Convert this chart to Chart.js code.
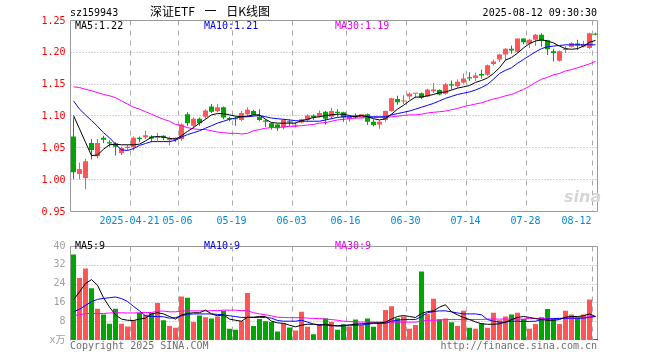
<!DOCTYPE html>
<html><head><meta charset="utf-8">
<script src="https://cdn.jsdelivr.net/npm/chart.js@4.4.1/dist/chart.umd.min.js"></script>
<style>
html,body{margin:0;padding:0;background:#fff;}
#wrap{position:relative;width:660px;height:360px;overflow:hidden;font-family:"DejaVu Sans Mono",monospace;font-size:10px;}
.t{position:absolute;white-space:pre;line-height:10px;}
#c1{position:absolute;left:0;top:0;}
#c2{position:absolute;left:0;top:235px;}
</style></head><body>
<div id="wrap">
<canvas id="c1" width="660" height="235"></canvas>
<canvas id="c2" width="660" height="125"></canvas>
<div class="t" style="left:70px;top:8px;color:#000;">sz159943</div>
<div class="t" style="left:150px;top:5px;font-family:'Noto Sans CJK SC',sans-serif;font-size:12px;line-height:12px;word-spacing:7px;color:#000;">深证ETF 一 日K线图</div>
<div class="t" style="right:63px;top:8px;color:#000;">2025-08-12 09:30:30</div>
<div class="t" style="left:75px;top:21px;color:#000;">MA5:1.22</div>
<div class="t" style="left:204px;top:21px;color:#0000ee;">MA10:1.21</div>
<div class="t" style="left:335px;top:21px;color:#ee00ee;">MA30:1.19</div>
<div class="t" style="left:75px;top:241px;color:#000;">MA5:9</div>
<div class="t" style="left:204px;top:241px;color:#0000ee;">MA10:9</div>
<div class="t" style="left:335px;top:241px;color:#ee00ee;">MA30:9</div>
<div class="t" style="left:70px;top:341px;color:#6e6e6e;">Copyright 2025 SINA.COM</div>
<div class="t" style="right:63px;top:341px;color:#6e6e6e;">http://finance.sina.com.cn</div>
<div class="t" style="left:564px;top:189px;font-family:'DejaVu Sans',sans-serif;font-size:16px;line-height:16px;font-style:italic;font-weight:bold;color:#d6d6d6;">sina</div>
</div>
<script>
const dates = [
'2025-04-07','2025-04-08','2025-04-09','2025-04-10','2025-04-11','2025-04-14','2025-04-15','2025-04-16','2025-04-17','2025-04-18',
'2025-04-21','2025-04-22','2025-04-23','2025-04-24','2025-04-25','2025-04-28','2025-04-29','2025-04-30',
'2025-05-06','2025-05-07','2025-05-08','2025-05-09','2025-05-12','2025-05-13','2025-05-14','2025-05-15','2025-05-16',
'2025-05-19','2025-05-20','2025-05-21','2025-05-22','2025-05-23','2025-05-26','2025-05-27','2025-05-28','2025-05-29','2025-05-30',
'2025-06-03','2025-06-04','2025-06-05','2025-06-06','2025-06-09','2025-06-10','2025-06-11','2025-06-12','2025-06-13',
'2025-06-16','2025-06-17','2025-06-18','2025-06-19','2025-06-20','2025-06-23','2025-06-24','2025-06-25','2025-06-26','2025-06-27',
'2025-06-30','2025-07-01','2025-07-02','2025-07-03','2025-07-04','2025-07-07','2025-07-08','2025-07-09','2025-07-10','2025-07-11',
'2025-07-14','2025-07-15','2025-07-16','2025-07-17','2025-07-18','2025-07-21','2025-07-22','2025-07-23','2025-07-24','2025-07-25',
'2025-07-28','2025-07-29','2025-07-30','2025-07-31','2025-08-01','2025-08-04','2025-08-05','2025-08-06','2025-08-07','2025-08-08',
'2025-08-11','2025-08-12'];

const opens = [1.067,1.008,1.002,1.057,1.036,1.065,1.058,1.056,1.041,1.049,
1.050,1.065,1.066,1.067,1.065,1.068,1.061,1.062,
1.063,1.102,1.084,1.095,1.098,1.114,1.107,1.113,1.096,
1.095,1.093,1.102,1.107,1.098,1.092,1.088,1.086,1.081,1.091,
1.084,1.089,1.093,1.100,1.098,1.106,1.098,1.106,1.105,
1.095,1.100,1.097,1.102,1.090,1.086,1.093,1.107,1.126,1.122,
1.130,1.134,1.135,1.130,1.138,1.140,1.134,1.149,1.146,1.152,
1.160,1.159,1.165,1.164,1.181,1.188,1.196,1.205,1.200,1.221,
1.213,1.219,1.227,1.218,1.201,1.186,1.203,1.208,1.213,1.208,
1.206,1.228];
const highs = [1.097,1.026,1.032,1.063,1.063,1.068,1.061,1.058,1.051,1.054,
1.067,1.067,1.076,1.069,1.073,1.069,1.067,1.066,
1.088,1.105,1.097,1.097,1.110,1.118,1.118,1.114,1.098,
1.098,1.107,1.113,1.109,1.110,1.094,1.089,1.087,1.095,1.094,
1.090,1.095,1.102,1.102,1.108,1.107,1.112,1.110,1.106,
1.099,1.103,1.102,1.103,1.094,1.092,1.108,1.128,1.131,1.132,
1.136,1.135,1.136,1.142,1.151,1.141,1.151,1.155,1.157,1.166,
1.168,1.167,1.172,1.180,1.188,1.197,1.206,1.210,1.221,1.221,
1.220,1.228,1.229,1.219,1.205,1.202,1.209,1.215,1.219,1.217,
1.230,1.230];
const lows = [1.000,1.000,0.984,1.031,1.033,1.057,1.051,1.037,1.038,1.046,
1.045,1.058,1.063,1.058,1.060,1.061,1.053,1.058,
1.060,1.083,1.080,1.084,1.095,1.104,1.105,1.094,1.091,
1.084,1.091,1.098,1.100,1.091,1.082,1.078,1.076,1.078,1.083,
1.081,1.088,1.090,1.093,1.097,1.086,1.094,1.098,1.090,
1.090,1.095,1.096,1.085,1.083,1.079,1.090,1.106,1.117,1.118,
1.125,1.127,1.126,1.129,1.135,1.132,1.133,1.141,1.144,1.150,
1.154,1.154,1.158,1.162,1.178,1.184,1.187,1.197,1.198,1.212,
1.206,1.209,1.208,1.195,1.185,1.185,1.198,1.207,1.203,1.207,
1.205,1.226];
const closes = [1.011,1.016,1.028,1.046,1.057,1.062,1.056,1.051,1.049,1.051,
1.065,1.063,1.069,1.064,1.067,1.065,1.064,1.065,
1.086,1.088,1.095,1.088,1.108,1.106,1.113,1.097,1.094,
1.094,1.104,1.109,1.101,1.093,1.090,1.081,1.080,1.093,1.089,
1.085,1.094,1.100,1.097,1.104,1.095,1.107,1.104,1.097,
1.098,1.097,1.102,1.090,1.085,1.090,1.107,1.127,1.121,1.123,
1.134,1.135,1.128,1.141,1.141,1.133,1.149,1.147,1.153,1.158,
1.158,1.163,1.163,1.179,1.185,1.196,1.205,1.202,1.221,1.215,
1.219,1.227,1.217,1.204,1.198,1.201,1.205,1.214,1.210,1.212,
1.229,1.227];

const ma5 = [1.100,1.079,1.058,1.037,1.038,1.047,1.054,1.055,1.054,1.054,
1.054,1.055,1.060,1.066,1.067,1.066,1.064,1.063,
1.068,1.075,1.081,1.088,1.094,1.101,1.103,1.103,1.101,
1.099,1.098,1.099,1.101,1.101,1.094,1.089,1.088,1.088,1.088,
1.088,1.092,1.094,1.097,1.098,1.100,1.101,1.102,1.102,
1.100,1.098,1.100,1.098,1.095,1.093,1.095,1.102,1.110,1.116,
1.123,1.129,1.129,1.131,1.133,1.136,1.137,1.140,1.143,1.145,
1.147,1.152,1.155,1.159,1.166,1.175,1.187,1.191,1.198,1.206,
1.213,1.217,1.219,1.217,1.214,1.209,1.205,1.204,1.205,1.209,
1.215,1.218];
const ma10 = [1.123,1.110,1.101,1.092,1.083,1.073,1.065,1.055,1.046,1.045,
1.048,1.053,1.056,1.059,1.059,1.059,1.059,1.061,
1.066,1.070,1.073,1.076,1.080,1.084,1.088,1.091,1.094,
1.096,1.098,1.098,1.099,1.100,1.098,1.096,1.095,1.094,1.093,
1.092,1.091,1.091,1.091,1.091,1.093,1.095,1.097,1.098,
1.098,1.099,1.100,1.098,1.098,1.098,1.098,1.101,1.103,1.105,
1.107,1.110,1.113,1.116,1.119,1.123,1.127,1.130,1.133,1.135,
1.137,1.140,1.144,1.149,1.157,1.166,1.171,1.175,1.182,1.188,
1.194,1.200,1.205,1.208,1.209,1.210,1.211,1.211,1.211,1.211,
1.211,1.211];
const ma30 = [1.145,1.144,1.141,1.139,1.136,1.133,1.131,1.128,1.123,1.118,
1.113,1.110,1.106,1.102,1.098,1.094,1.091,1.086,
1.084,1.081,1.079,1.078,1.078,1.076,1.074,1.073,1.072,
1.072,1.071,1.072,1.076,1.078,1.080,1.081,1.081,1.082,1.083,
1.083,1.084,1.085,1.086,1.088,1.089,1.091,1.093,1.094,
1.095,1.096,1.096,1.097,1.097,1.097,1.097,1.098,1.099,1.100,
1.101,1.101,1.102,1.104,1.105,1.106,1.107,1.109,1.111,1.114,
1.116,1.118,1.120,1.123,1.126,1.128,1.131,1.133,1.137,1.141,
1.146,1.152,1.157,1.160,1.164,1.166,1.170,1.172,1.175,1.178,
1.181,1.185];

const volumes = [36.4,26.4,30.4,22,13.3,10.9,6.9,13.3,6.9,5.7,
8.4,11.6,10.7,11.6,15.7,8.4,6,5.2,
18.5,18,7.7,10.4,9.7,9.2,10,12.4,4.8,
4.4,8,20,6,8.9,8,7.7,3.6,7.1,5.3,
4,12,5.6,2.4,6.7,9.3,7.7,4.4,6.7,
5.7,8.7,6.3,9.2,5.6,7.6,12.8,14.4,9.3,10,
4.8,6.4,29.2,11.1,17.6,8.8,9.2,7.6,6,12.4,
5.2,4.8,7.1,5.2,11.6,8.4,10,10.8,11.6,8.9,
4.8,6.8,9.7,13.2,8.9,6.8,12.4,10.8,9.6,10.8,
17.2,0.4];
const volMa5 = [17.1,20.5,24,25.7,23.3,18,14,10.7,8.9,8.4,
8.3,8.9,9.3,11.1,11.6,11.1,10,8.9,
10.7,11.3,11.6,11.6,12.7,11.1,10.3,10.7,8.9,
8.4,8,9.7,9.7,10,10,8,7.3,7.1,6.3,
5.6,6.3,6.7,6.7,6.3,6.7,6.3,5.9,6,
6.4,6.7,6.9,7.1,7.3,7.3,7.6,8.9,10,10.4,
10,9.6,11.3,12.1,12.4,14,15,12,10.7,9.6,
8.7,7.7,6.9,6.7,6.7,6.9,7.6,8.7,9.6,10,
9.6,9.1,8.7,8.4,8.4,8.7,9.7,10,10,10.3,
11.1,10];
const volMa10 = [12,13.1,14.7,16.3,17.3,17.7,18,18.3,17.6,16.4,
14.3,12.4,10.3,10,10,9.9,9.3,9.5,
10.3,10.9,11.1,11.1,11.1,11.1,10.9,10.7,10.3,
10,9.6,9.6,9.6,9.6,9.6,9.3,8.3,8,8,
8,8.4,7.6,6.8,6.5,6.4,6,6.1,6.3,
6.3,6.3,6.4,6.7,7.1,7.1,7.1,8,8.4,8.7,
8.7,8.7,10,11.6,12.1,12.4,12.4,12,11.5,11.1,
11.1,11.1,10.7,8.7,8,7.6,7.6,8,8,7.9,
7.9,8,8.7,8.9,9.1,9.2,9.3,9.3,9.3,9.3,
9.6,10];
const volMa30 = [10.3,10.8,11.2,11.3,11.3,11.3,11.5,11.6,11.6,11.5,
11.5,11.6,11.7,11.7,12.3,12.3,12,12,
12.3,12.4,12.4,12.4,12.4,12.5,12.5,12.7,12.7,
12.7,12.5,12.5,11.6,11.1,10.7,10.3,9.7,9.6,9.5,
9.5,9.5,9.3,9.2,9.1,8.9,8.7,8.4,8,
7.9,7.7,7.6,7.6,7.6,7.6,7.6,7.6,7.6,7.6,
7.6,7.6,8,8.4,8.4,8.5,8.7,8.7,8.7,8.7,
8.7,8.7,8.7,8.9,8.9,8.9,8.9,8.9,8.9,8.9,
9.2,9.2,9.2,9.2,9.2,9.2,9.2,9.2,9.3,9.5,
10,10];

const priceTicks = [0.95,1.00,1.05,1.10,1.15,1.20,1.25];
const volTicks = [0,8,16,24,32,40];
const tickDates = ['2025-04-21','2025-05-06','2025-05-19','2025-06-03','2025-06-16','2025-06-30','2025-07-14','2025-07-28','2025-08-12'];
const tickTexts = ['2025-04-21','05-06','05-19','06-03','06-16','06-30','07-14','07-28','08-12'];

const UP = '#ff5555', DOWN = '#00a600';
const candleColors = opens.map((o,i)=> closes[i] >= o ? UP : DOWN);
const MONO = "'DejaVu Sans Mono', 'Noto Sans CJK SC', monospace";
const tickIdx = tickDates.map(d => dates.indexOf(d));

// Frame + dashed/dotted grid drawn from the chart's own scales
function gridFramePlugin(yTicks, bottomBorder){
  return {
    id:'gridframe',
    beforeDatasetsDraw(chart){
      const a = chart.chartArea, c = chart.ctx;
      const xs = chart.scales.x, ys = chart.scales.y;
      const slot = xs.getPixelForValue(1) - xs.getPixelForValue(0);
      const x0 = Math.floor(a.left)+0.5, x1 = 597.5, y0 = Math.floor(a.top)+0.5, y1 = Math.floor(a.bottom)+0.5;
      c.save();
      c.lineWidth = 1;
      // vertical dashed lines at the left edge of each labelled date slot
      c.strokeStyle = '#a9a9a9'; c.setLineDash([5,5]);
      tickIdx.forEach(i=>{
        const px = Math.floor(xs.getPixelForValue(i) - slot/2) + 0.5;
        c.beginPath(); c.moveTo(px, y0); c.lineTo(px, y1); c.stroke();
      });
      // horizontal dotted lines
      c.strokeStyle = '#a8a8a8'; c.setLineDash([1,2]);
      yTicks.slice(1, -1).forEach(v=>{
        const py = Math.round(ys.getPixelForValue(v)) + 0.5;
        c.beginPath(); c.moveTo(x0, py); c.lineTo(x1, py); c.stroke();
      });
      // frame
      c.setLineDash([]); c.strokeStyle = '#9a9a9a';
      c.beginPath();
      c.moveTo(x0,y1); c.lineTo(x0,y0); c.lineTo(x1,y0); c.lineTo(x1,y1);
      if (bottomBorder) c.lineTo(x0,y1);
      c.stroke();
      c.restore();
    }
  };
}

function xScale(showLabels){
  return {
    type:'category',
    offset:true,
    grid:{display:false, offset:true, drawTicks:false},
    border:{display:false},
    ticks:{display:showLabels, autoSkip:false, maxRotation:0, minRotation:0, padding:4, labelOffset:-4,
      color:'#0088dd', font:{family:MONO, size:10},
      callback:function(v, i){
        const k = tickDates.indexOf(dates[i]);
        if (k < 0) return '';
        return tickTexts[k] + (i === dates.length-1 ? '     ' : '');
      }},
    afterFit(s){ s.height = showLabels ? 24 : 20; }
  };
}

function yScale(ticksArr, color, fmt, lblOff){
  return {
    min:ticksArr[0], max:ticksArr[ticksArr.length-1],
    afterBuildTicks(s){ s.ticks = ticksArr.map(v=>({value:v})); },
    grid:{display:false, drawTicks:false},
    border:{display:false},
    ticks:{color:color, padding:5, labelOffset:lblOff, font:{family:MONO, size:10}, callback:fmt},
    afterFit(s){ s.width = 70.5; }
  };
}

const common = {
  responsive:false, devicePixelRatio:1, animation:false,
  plugins:{legend:{display:false}, tooltip:{enabled:false}},
  events:[]
};

function lineDs(label, data, color, order){
  return {type:'line', label:label, data:data, borderColor:color, borderWidth:1, pointRadius:0, tension:0, order:order};
}

new Chart(document.getElementById('c1'), {
  type:'bar',
  data:{
    labels: dates,
    datasets:[
      lineDs('MA5', ma5, '#000000', 0),
      lineDs('MA10', ma10, '#0000ff', 0.5),
      lineDs('MA30', ma30, '#ff00ff', 1),
      {type:'bar', label:'body', data:opens.map((o,i)=>[o, closes[i]]), backgroundColor:candleColors,
        barThickness:5, minBarLength:1, grouped:false, borderWidth:0, inflateAmount:0, order:2},
      {type:'bar', label:'wick', data:lows.map((l,i)=>[l, highs[i]]), backgroundColor:candleColors,
        barThickness:1, grouped:false, borderWidth:0, inflateAmount:0, order:3}
    ]
  },
  options:Object.assign({}, common, {
    layout:{padding:{left:0, right:61.5, top:20, bottom:0}},
    scales:{
      x: xScale(true),
      y: yScale(priceTicks, '#ff0000', (v)=>Number(v).toFixed(2), 1)
    }
  }),
  plugins:[gridFramePlugin(priceTicks, true)]
});

new Chart(document.getElementById('c2'), {
  type:'bar',
  data:{
    labels: dates,
    datasets:[
      lineDs('VMA5', volMa5, '#000000', 0),
      lineDs('VMA10', volMa10, '#0000ff', 0.5),
      lineDs('VMA30', volMa30, '#ff00ff', 1),
      {type:'bar', label:'vol', data:volumes, backgroundColor:candleColors, barThickness:5, grouped:false, borderWidth:0, inflateAmount:0, order:2}
    ]
  },
  options:Object.assign({}, common, {
    layout:{padding:{left:0, right:61.5, top:5, bottom:0}},
    scales:{
      x: xScale(false),
      y: yScale(volTicks, '#a0a0a0', (v)=> v === 0 ? 'x万' : String(v), 0)
    }
  }),
  plugins:[gridFramePlugin(volTicks, false)]
});
</script>
</body></html>
